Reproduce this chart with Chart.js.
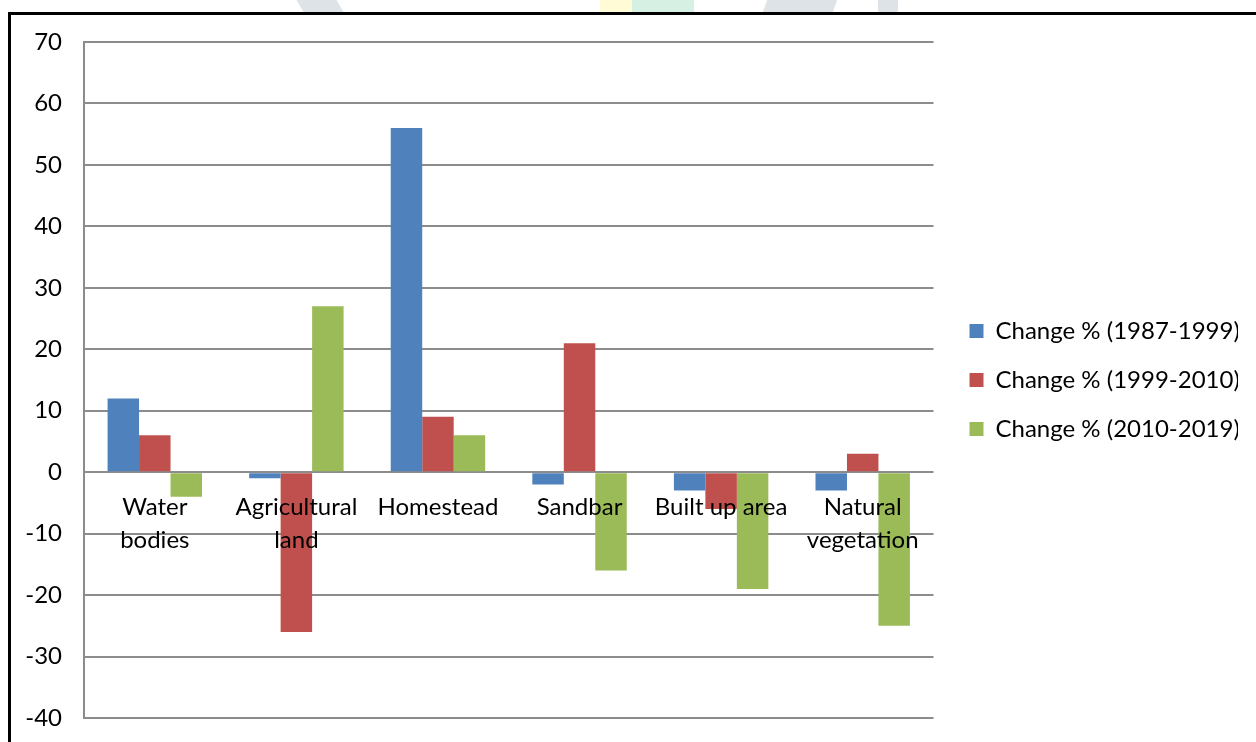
<!DOCTYPE html>
<html>
<head>
<meta charset="utf-8">
<script src="https://cdn.jsdelivr.net/npm/chart.js@4"></script>
<style>
  body { margin: 0; background: #fff; overflow: hidden; }
  #frame { position: absolute; left: 8px; top: 12px; width: 1400px; height: 900px;
           border-left: 3px solid #000; border-top: 3px solid #000; }
  #wrap { position: absolute; left: 0; top: 0; width: 1256px; height: 742px; }
  .wm { position: absolute; top: 0; height: 12px; }
</style>
</head>
<body>
<div class="wm" style="left:300px;width:40px;background:#dde3e6;transform:skewX(30deg)"></div>
<div class="wm" style="left:600px;width:35px;background:#fffbd6"></div>
<div class="wm" style="left:632px;width:62px;background:#d6f0e4"></div>
<div class="wm" style="left:765px;width:70px;background:#dde3e6;transform:skewX(-20deg)"></div>
<div class="wm" style="left:878px;width:20px;background:#dde3e6"></div>
<div id="frame"></div>
<div id="wrap"><canvas id="chart" width="1256" height="742"></canvas></div>
<script>
// data
var categories = [["Water", "bodies"], ["Agricultural", "land"], "Homestead", "Sandbar", "Built up area", ["Natural", "vegetation"]];
var change8799 = [12, -1, 56, -2, -3, -3];
var change9910 = [6, -26, 9, 21, -6, 3];
var change1019 = [-4, 27, 6, -16, -19, -25];
var seriesNames = ["Change % (1987-1999)", "Change % (1999-2010)", "Change % (2010-2019)"];
var yMin = -40, yMax = 70, yStep = 10;

var fontFamily = "Lato, 'Open Sans', sans-serif";
var gridColor = "#8c8c8c";

function noPadding(scale) {
  scale.paddingLeft = 0;
  scale.paddingRight = 0;
  scale.paddingTop = 0;
  scale.paddingBottom = 0;
}

// push the legend a bit away from the plot, like the original
var legendShift = {
  id: 'legendShift',
  afterLayout: function (chart) {
    if (chart.legend) chart.legend.left += 11;
  }
};

new Chart(document.getElementById("chart"), {
  type: 'bar',
  data: {
    labels: categories,
    datasets: [
      { label: seriesNames[0], data: change8799, backgroundColor: "#4F81BD" },
      { label: seriesNames[1], data: change9910, backgroundColor: "#C0504D" },
      { label: seriesNames[2], data: change1019, backgroundColor: "#9BBB59" }
    ]
  },
  plugins: [legendShift],
  options: {
    responsive: false,
    animation: false,
    layout: { padding: { left: 20, top: 42, bottom: 24, right: 18 } },
    datasets: { bar: { categoryPercentage: 0.667, barPercentage: 1.0 } },
    plugins: {
      tooltip: { enabled: false },
      legend: {
        position: 'right',
        labels: {
          color: '#000',
          font: { family: fontFamily, size: 24 },
          boxWidth: 14,
          boxHeight: 14,
          padding: 25
        }
      }
    },
    scales: {
      x: {
        position: { y: 0 },
        afterFit: noPadding,
        grid: { display: false, drawTicks: false },
        border: { display: false },
        ticks: {
          z: 1,
          color: '#000',
          font: { family: fontFamily, size: 24, lineHeight: 1.35 },
          padding: 19,
          maxRotation: 0,
          autoSkip: false
        }
      },
      y: {
        min: yMin,
        max: yMax,
        afterFit: function (scale) { scale.width = 64; noPadding(scale); },
        grid: { color: gridColor, lineWidth: 2, drawTicks: false },
        border: { display: true, color: gridColor, width: 2 },
        ticks: {
          stepSize: yStep,
          color: '#000',
          font: { family: fontFamily, size: 24 },
          padding: 22
        }
      }
    }
  }
});
</script>
</body>
</html>
